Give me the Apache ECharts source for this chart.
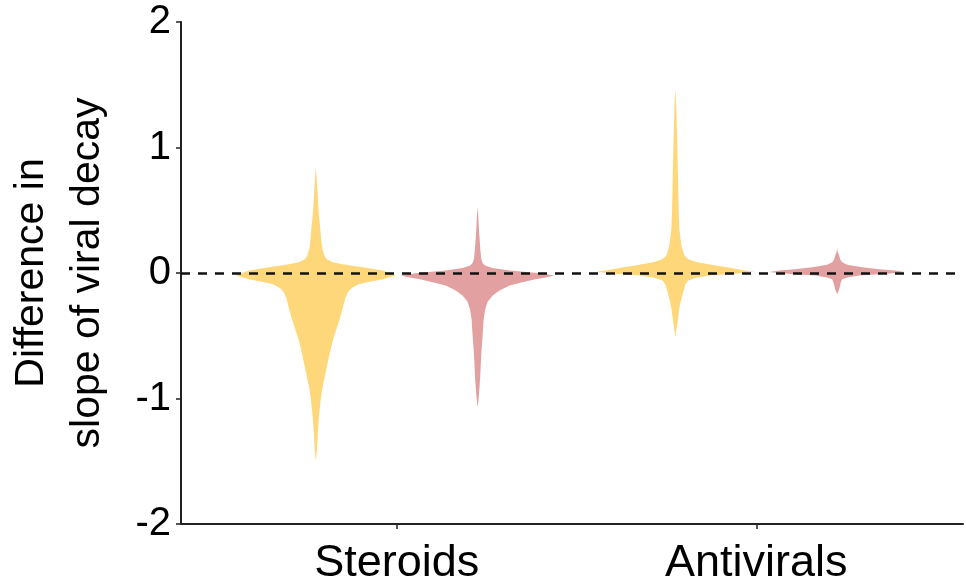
<!DOCTYPE html>
<html>
<head>
<meta charset="utf-8">
<title>Difference in slope of viral decay</title>
<script src="https://cdn.jsdelivr.net/npm/echarts@6/dist/echarts.min.js"></script>
<style>
  html, body { margin: 0; padding: 0; background: #fff; }
  #chart { width: 966px; height: 584px; }
</style>
</head>
<body>
<div id="chart"></div>
<script>
// categories and where they sit on the x value axis
const categories = ['Steroids', 'Antivirals']
const categoryPos = [1, 2]
const yTicks = [-2, -1, 0, 1, 2]

// violin centres (x units) for each of the four violins
const violinCenters = [0.775, 1.225, 1.775, 2.225]

// violin profiles: [y value, half width in x units]
const steroidsA = [
  [0.84, 0], [0.78, 0.0017], [0.68, 0.0039], [0.55, 0.0064], [0.45, 0.0089],
  [0.35, 0.0125], [0.25, 0.0156], [0.19, 0.0186], [0.14, 0.0236], [0.11, 0.0306],
  [0.085, 0.0472], [0.07, 0.075], [0.055, 0.1056], [0.045, 0.1306], [0.02, 0.186],
  [-0.02, 0.222], [-0.05, 0.186], [-0.07, 0.15], [-0.09, 0.119], [-0.12, 0.1],
  [-0.15, 0.09], [-0.2, 0.082], [-0.3, 0.073], [-0.37, 0.066], [-0.45, 0.057],
  [-0.53, 0.048], [-0.61, 0.041], [-0.69, 0.035], [-0.77, 0.029], [-0.84, 0.024],
  [-0.92, 0.018], [-1.0, 0.014], [-1.08, 0.011], [-1.16, 0.0083], [-1.24, 0.0064],
  [-1.32, 0.0047], [-1.42, 0.0028], [-1.5, 0]
]
const steroidsB = [
  [0.53, 0], [0.45, 0.002], [0.35, 0.0036], [0.27, 0.0056], [0.18, 0.0078],
  [0.11, 0.0103], [0.08, 0.0139], [0.06, 0.0208], [0.04, 0.0417], [0.02, 0.089],
  [0, 0.167], [-0.02, 0.214], [-0.035, 0.189], [-0.05, 0.161], [-0.075, 0.122],
  [-0.1, 0.089], [-0.14, 0.061], [-0.18, 0.042], [-0.23, 0.028], [-0.29, 0.021],
  [-0.37, 0.0167], [-0.5, 0.0139], [-0.61, 0.011], [-0.72, 0.0089], [-0.84, 0.007],
  [-0.95, 0.0042], [-1.0, 0.0028], [-1.07, 0]
]
const antiviralsA = [
  [1.46, 0], [1.38, 0.0017], [1.3, 0.0028], [1.15, 0.0042], [1.0, 0.0056],
  [0.85, 0.0067], [0.7, 0.0078], [0.5, 0.0092], [0.35, 0.0111], [0.22, 0.0167],
  [0.14, 0.025], [0.11, 0.036], [0.085, 0.061], [0.065, 0.1], [0.045, 0.144],
  [0.02, 0.194], [0.01, 0.219], [-0.005, 0.167], [-0.02, 0.097], [-0.04, 0.056],
  [-0.06, 0.036], [-0.09, 0.028], [-0.13, 0.024], [-0.18, 0.0194], [-0.23, 0.0147],
  [-0.29, 0.0106], [-0.34, 0.0083], [-0.4, 0.0056], [-0.47, 0.0022], [-0.51, 0]
]
const antiviralsB = [
  [0.2, 0], [0.17, 0.0014], [0.14, 0.0056], [0.11, 0.0083], [0.085, 0.0139],
  [0.065, 0.028], [0.045, 0.069], [0.03, 0.117], [0.02, 0.161], [0.007, 0.189],
  [-0.005, 0.139], [-0.02, 0.061], [-0.035, 0.028], [-0.05, 0.0139], [-0.08, 0.0097],
  [-0.1, 0.0083], [-0.13, 0.0056], [-0.15, 0.0028], [-0.17, 0]
]

const profiles = [steroidsA, steroidsB, antiviralsA, antiviralsB]
const colors = ['#FFD77B', '#E2A0A0', '#FFD77B', '#E2A0A0']

const font = 'Arial, "Liberation Sans", Helvetica, sans-serif'

// draw one violin as a polygon, right edge down then left edge back up
function violinRenderer(profile, color) {
  return function (params, api) {
    const cx = api.value(0)
    const pts = []
    profile.forEach(p => pts.push(api.coord([cx + p[1], p[0]])))
    for (let i = profile.length - 1; i >= 0; i--) {
      const p = profile[i]
      pts.push(api.coord([cx - p[1], p[0]]))
    }
    return {
      type: 'polygon',
      shape: { points: pts },
      style: { fill: color, stroke: null }
    }
  }
}

const series = profiles.map((prof, i) => ({
  type: 'custom',
  renderItem: violinRenderer(prof, colors[i]),
  data: [[violinCenters[i]]],
  encode: { x: 0 },
  z: 2,
  silent: true
}))

// dashed zero line
series.push({
  type: 'line',
  data: [],
  z: 5,
  silent: true,
  markLine: {
    symbol: 'none',
    silent: true,
    label: { show: false },
    lineStyle: { color: '#111', width: 2.5, type: [9, 8] },
    data: [{ yAxis: 0 }]
  }
})

const chart = echarts.init(document.getElementById('chart'))
chart.setOption({
  animation: false,
  grid: { left: 181, right: 3, top: 22, bottom: 60, outerBoundsMode: 'none', containLabel: false },
  xAxis: {
    type: 'value',
    min: 0.4,
    max: 2.575,
    splitLine: { show: false },
    axisLine: { show: true, onZero: false, lineStyle: { color: '#222', width: 2 } },
    axisTick: { show: true, customValues: categoryPos, length: 5, lineStyle: { color: '#222', width: 1.5 } },
    axisLabel: {
      customValues: categoryPos,
      formatter: v => categories[categoryPos.indexOf(v)] || '',
      color: '#000',
      fontSize: 45,
      fontFamily: font,
      margin: 17
    }
  },
  yAxis: {
    type: 'value',
    min: -2,
    max: 2,
    interval: 1,
    splitLine: { show: false },
    axisLine: { show: true, onZero: false, lineStyle: { color: '#222', width: 2 } },
    axisTick: { show: true, length: 5, lineStyle: { color: '#222', width: 1.5 } },
    axisLabel: {
      color: '#000',
      fontSize: 40,
      fontFamily: font,
      margin: 10,
      formatter: v => (yTicks.indexOf(v) >= 0 ? String(v) : '')
    },
    name: 'Difference in\nslope of viral decay',
    nameLocation: 'middle',
    nameRotate: 90,
    nameGap: 65,
    nameTextStyle: {
      color: '#000',
      fontSize: 41,
      fontFamily: font,
      lineHeight: 56
    }
  },
  series: series
})
</script>
</body>
</html>
